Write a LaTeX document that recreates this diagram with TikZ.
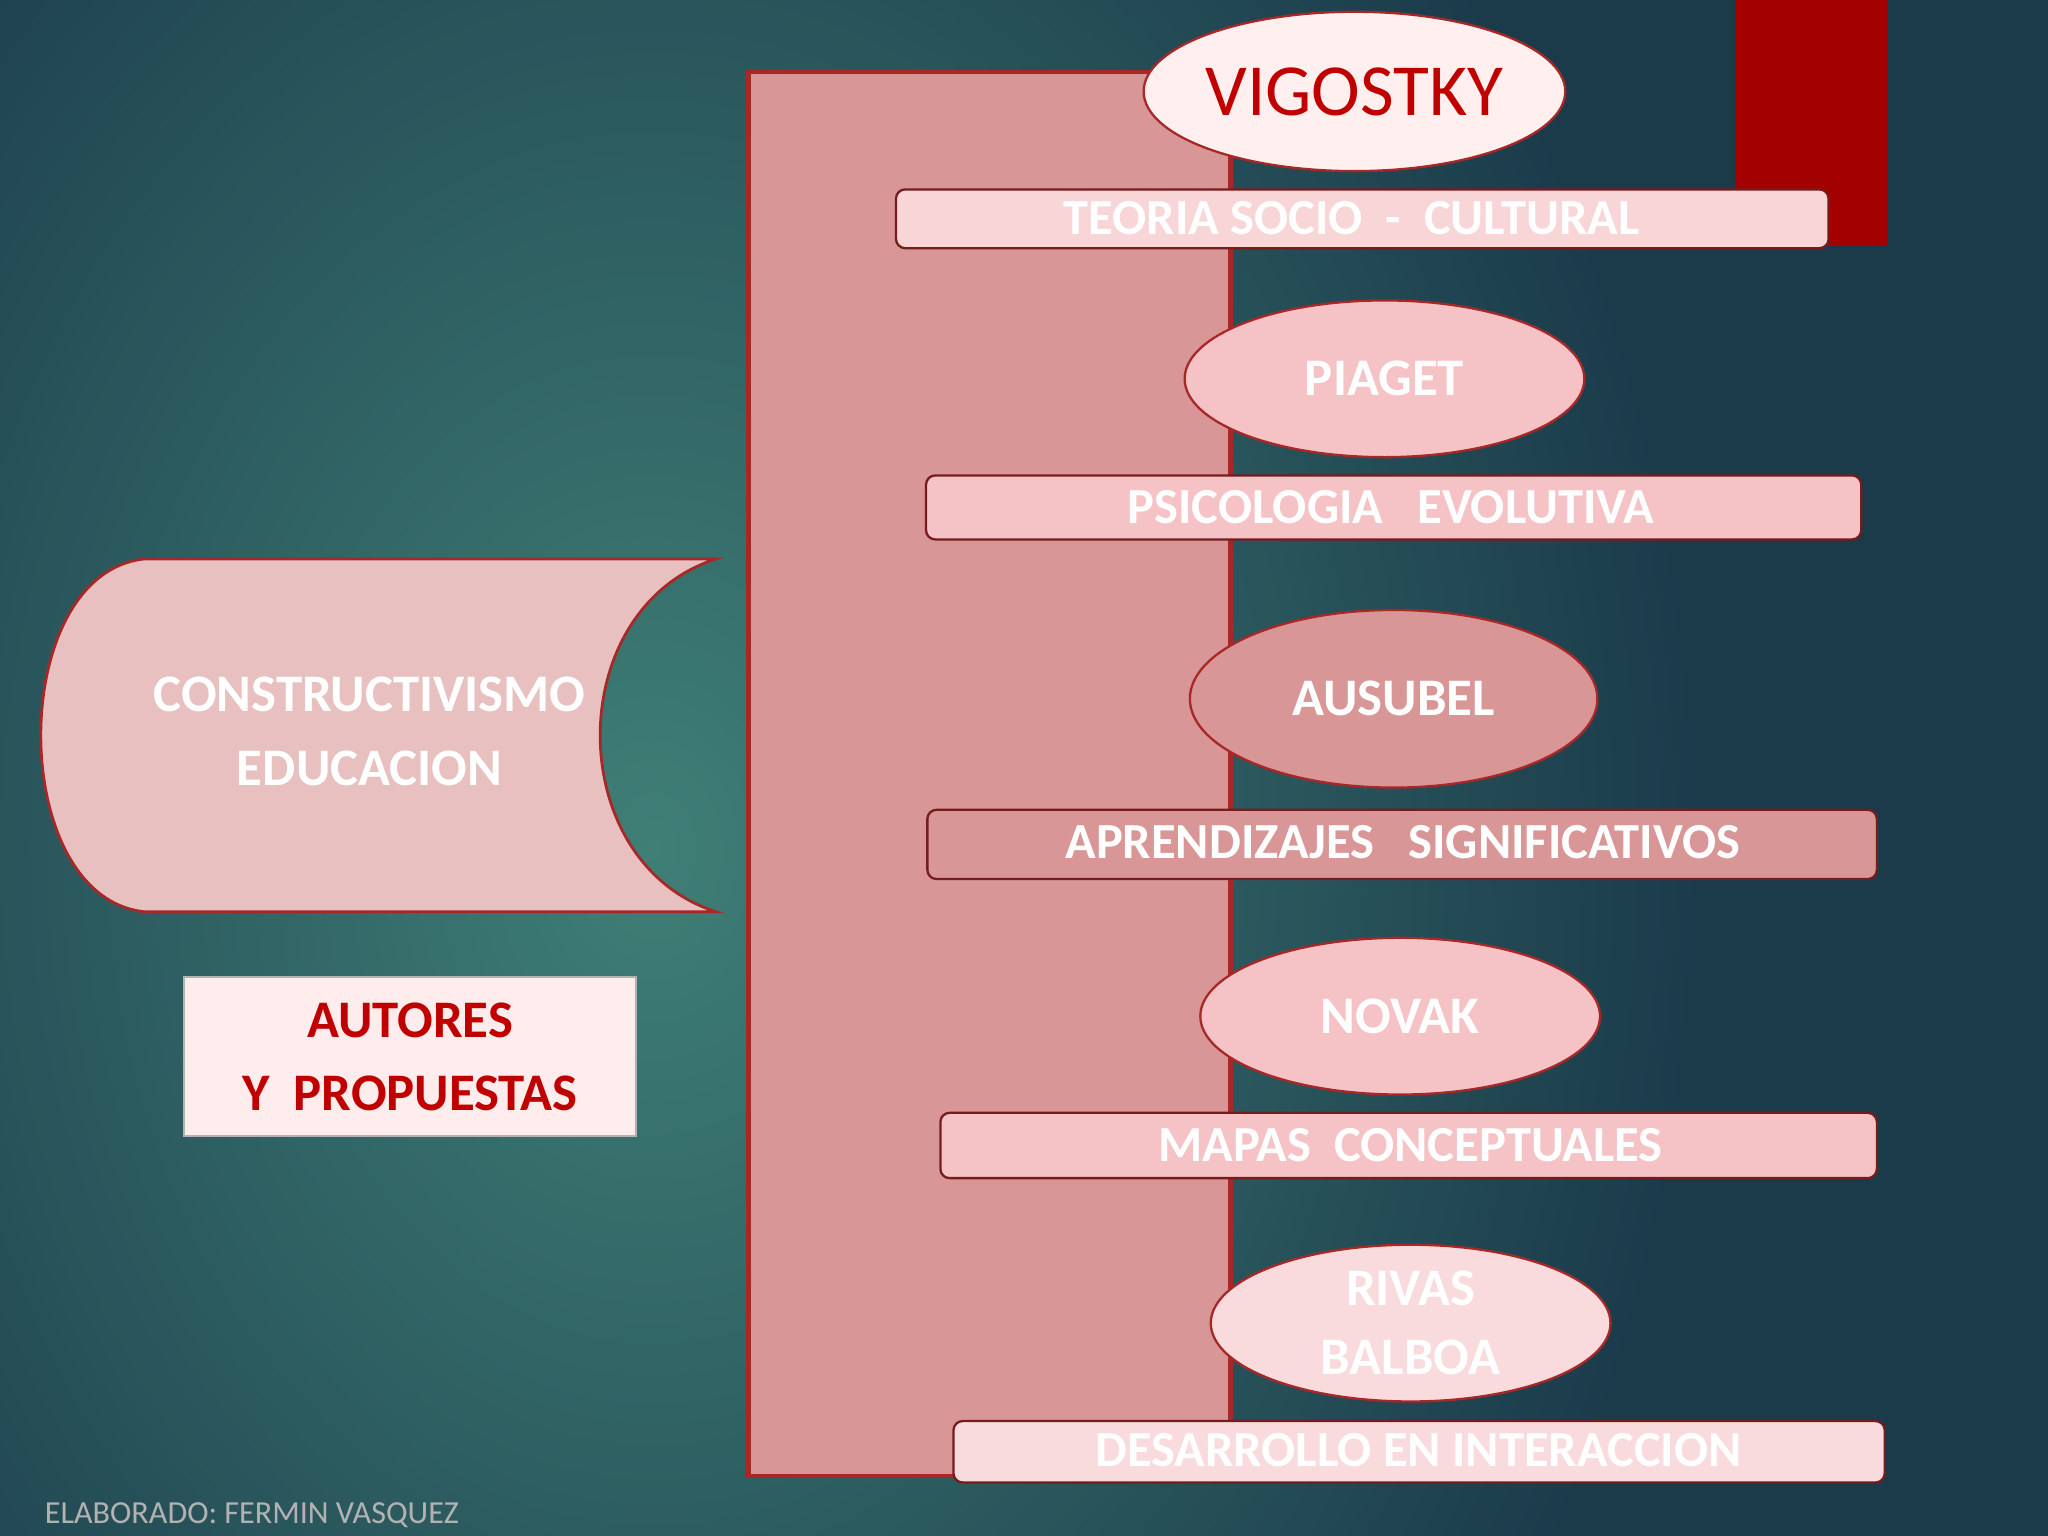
\documentclass[tikz,border=0pt]{standalone}
\usepackage{fontspec}
\setmainfont{Carlito}
\definecolor{bgin}{HTML}{3F7F76}
\definecolor{bgout}{HTML}{1B3B4B}
\definecolor{dred}{HTML}{A82828}
\definecolor{rose}{HTML}{D89696}
\definecolor{lrose}{HTML}{F5C3C6}
\definecolor{txtred}{HTML}{C00000}
\tikzset{
 x=0.1mm,y=-0.1mm,
 oval/.style={ellipse, draw=dred, line width=0.5pt, minimum width=30.6mm, minimum height=12mm, inner sep=0pt, font=\fontsize{11.5}{15}\selectfont\bfseries, text=white, align=center},
 bartxt/.style={font=\fontsize{11}{12}\selectfont\bfseries, text=white},
 barbox/.style={draw=dred!70!black, line width=0.5pt, rounded corners=2pt},
}
\usetikzlibrary{shapes.geometric}
\begin{document}
\begin{tikzpicture}
\useasboundingbox (0,0) rectangle (1568,1176);
\begin{scope}
\clip (0,0) rectangle (1568,1176);
\shade[inner color=bgin, outer color=bgout] (-300,-400) rectangle (1300,1700);
\fill[bgout] (1300,-400) rectangle (1700,1700);
\end{scope}
\fill[txtred!85!black] (1328,0) rectangle (1445,188);
\draw[fill=rose, draw=dred, line width=1pt] (573,55) rectangle (942,1130);
% left shape
\draw[fill=rose!60!white, draw=dred, line width=0.6pt] (548,428) -- (110,428) .. controls (5,440) and (5,686) .. (110,698) -- (548,698) .. controls (430,660) and (430,466) .. (548,428) -- cycle;
\node[font=\fontsize{11.5}{16}\selectfont\bfseries, text=white, align=center] (c) at (283,560) {CONSTRUCTIVISMO\\EDUCACION};
\node[draw=gray!60, fill=pink!30!white, minimum width=34.6mm, minimum height=12.2mm, font=\fontsize{11.5}{16}\selectfont\bfseries, text=txtred, align=center] (a) at (314,809) {AUTORES\\Y\ \ PROPUESTAS};
% bars
\draw[barbox, fill=lrose!70!white] (686,145) rectangle (1400,190);
\node[bartxt] (b1) at (1035,167) {TEORIA SOCIO \ - \ CULTURAL};
\draw[barbox, fill=lrose] (709,364) rectangle (1425,413);
\node[bartxt] (b2) at (1065,388) {PSICOLOGIA \ \ EVOLUTIVA};
\draw[barbox, fill=rose] (710,620) rectangle (1437,673);
\node[bartxt] (b3) at (1074,645) {APRENDIZAJES \ \ SIGNIFICATIVOS};
\draw[barbox, fill=lrose] (720,852) rectangle (1437,902);
\node[bartxt] (b4) at (1080,877) {MAPAS \ CONCEPTUALES};
\draw[barbox, fill=lrose!60!white] (730,1088) rectangle (1443,1135);
\node[bartxt] (b5) at (1086,1110) {DESARROLLO EN INTERACCION};
% ovals
\node[oval, fill=pink!25!white, text=txtred, font=\fontsize{16}{18}\selectfont, minimum height=12.2mm] (v) at (1037,70) {VIGOSTKY};
\node[oval, fill=lrose] (p) at (1060,290) {PIAGET};
\node[oval, fill=rose, minimum width=31.2mm, minimum height=13.6mm] (au) at (1067,535) {AUSUBEL};
\node[oval, fill=lrose] (n) at (1072,778) {NOVAK};
\node[oval, fill=lrose!60!white] (r) at (1080,1013) {RIVAS\\BALBOA};
\node[anchor=west, text=gray!60, font=\fontsize{7}{8}\selectfont] (f) at (22,1160) {ELABORADO: FERMIN VASQUEZ};
\end{tikzpicture}
\end{document}
